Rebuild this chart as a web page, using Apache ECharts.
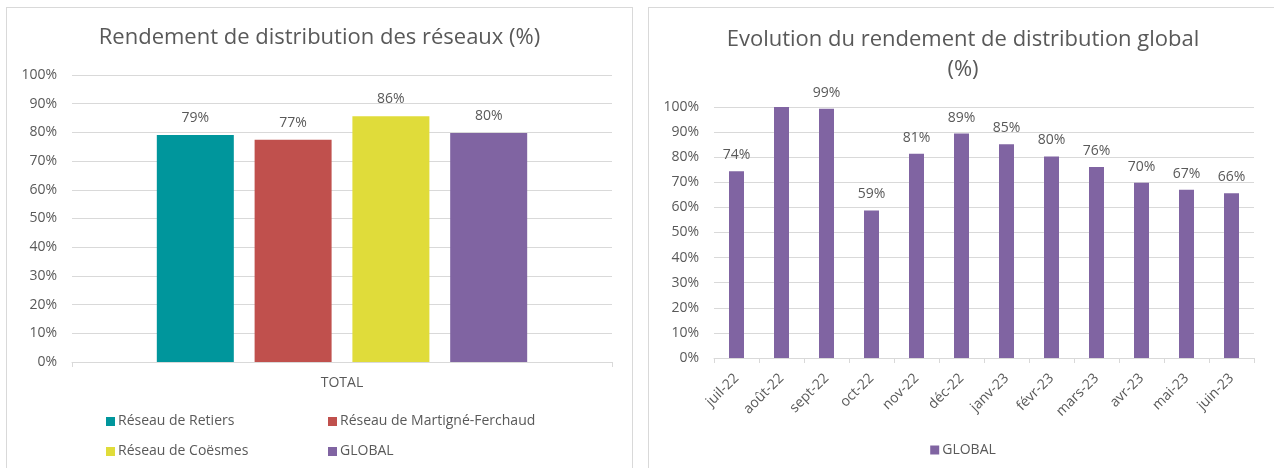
<!DOCTYPE html>
<html>
<head>
<meta charset="utf-8">
<script src="https://cdn.jsdelivr.net/npm/echarts@6/dist/echarts.min.js"></script>
<style>
  html, body { margin: 0; padding: 0; background: #fff; width: 1274px; height: 468px; overflow: hidden; }
  .panel { position: absolute; top: 7px; height: 470px; border: 1px solid #d9d9d9; box-sizing: border-box; background: #fff; }
  .panel > div { width: 100%; height: 100%; }
</style>
</head>
<body>
<div class="panel" style="left:6px;width:627px;"><div id="left-chart"></div></div>
<div class="panel" style="left:648px;width:630px;"><div id="right-chart"></div></div>
<script>
// réseaux (graphique de gauche)
var networkNames = ['Réseau de Retiers', 'Réseau de Martigné-Ferchaud', 'Réseau de Coësmes', 'GLOBAL'];
var networkValues = [79.1, 77.4, 85.6, 79.8];
var networkColors = ['#00969c', '#c0504d', '#e0dc3a', '#8064a2'];
var leftCategory = ['TOTAL'];

// évolution mensuelle (graphique de droite)
var months = ['juil-22', 'août-22', 'sept-22', 'oct-22', 'nov-22', 'déc-22', 'janv-23', 'févr-23', 'mars-23', 'avr-23', 'mai-23', 'juin-23'];
var globalMonthly = [74.4, 100, 99.3, 58.8, 81.4, 89.4, 85.2, 80.3, 76.1, 69.8, 67.0, 65.6];
var noLabelMonths = ['août-22'];
var yTicks = { min: 0, max: 100, interval: 10 };

var font = '"Open Sans", sans-serif';
var textColor = '#595959';
var gridColor = '#d9d9d9';

function legendCol(items, x) {
  return {
    data: items,
    orient: 'vertical',
    left: x, top: 404,
    padding: 0,
    itemWidth: 9, itemHeight: 9, itemGap: 11,
    icon: 'rect',
    textStyle: { color: textColor, fontSize: 14, padding: [0, 0, 0, -2], lineHeight: 19 }
  };
}

var left = echarts.init(document.getElementById('left-chart'));
left.setOption({
  animation: false,
  textStyle: { fontFamily: font },
  title: {
    text: 'Rendement de distribution des réseaux (%)',
    left: 'center',
    top: 14,
    textStyle: { fontSize: 22, fontWeight: 'normal', color: textColor, fontFamily: font }
  },
  legend: [
    legendCol([networkNames[0], networkNames[2]], 99),
    legendCol([networkNames[1], networkNames[3]], 321)
  ],
  grid: { left: 65, right: 20, top: 67, height: 287 },
  xAxis: {
    type: 'category',
    data: leftCategory,
    axisLine: { lineStyle: { color: gridColor } },
    axisTick: { show: true, length: 5, lineStyle: { color: gridColor } },
    axisLabel: { color: textColor, fontSize: 14, margin: 14 }
  },
  yAxis: {
    type: 'value',
    min: yTicks.min, max: yTicks.max, interval: yTicks.interval,
    axisLine: { show: false },
    axisTick: { show: false },
    splitLine: { lineStyle: { color: gridColor } },
    axisLabel: { formatter: '{value}%', color: textColor, fontSize: 14, margin: 15 }
  },
  series: networkNames.map(function (name, i) {
    return {
      name: name,
      type: 'bar',
      data: [networkValues[i]],
      barWidth: 77,
      barGap: '27%',
      itemStyle: { color: networkColors[i] },
      label: {
        show: true, position: 'top', distance: 10,
        color: textColor, fontSize: 14,
        formatter: function (p) { return Math.round(p.value) + '%'; }
      }
    };
  })
});

var right = echarts.init(document.getElementById('right-chart'));
right.setOption({
  animation: false,
  textStyle: { fontFamily: font },
  title: {
    text: 'Evolution du rendement de distribution global\n(%)',
    left: 'center',
    top: 12,
    textStyle: { fontSize: 22, fontWeight: 'normal', color: textColor, lineHeight: 30, fontFamily: font }
  },
  legend: {
    data: ['GLOBAL'],
    left: 'center', top: 435,
    padding: 0,
    itemWidth: 9, itemHeight: 9,
    icon: 'rect',
    textStyle: { color: textColor, fontSize: 14, padding: [0, 0, 0, -2] }
  },
  grid: { left: 65, right: 23, top: 99, height: 251 },
  xAxis: {
    type: 'category',
    data: months,
    axisLine: { lineStyle: { color: gridColor } },
    axisTick: { show: true, length: 5, lineStyle: { color: gridColor } },
    axisLabel: { color: textColor, fontSize: 14, rotate: 45, margin: 18, interval: 0 }
  },
  yAxis: {
    type: 'value',
    min: yTicks.min, max: yTicks.max, interval: yTicks.interval,
    axisLine: { show: false },
    axisTick: { show: false },
    splitLine: { lineStyle: { color: gridColor } },
    axisLabel: { formatter: '{value}%', color: textColor, fontSize: 14, margin: 15 }
  },
  series: [{
    name: 'GLOBAL',
    type: 'bar',
    barWidth: 15,
    itemStyle: { color: networkColors[3] },
    data: globalMonthly.map(function (v, i) {
      return noLabelMonths.indexOf(months[i]) >= 0 ? { value: v, label: { show: false } } : v;
    }),
    label: {
      show: true, position: 'top', distance: 9,
      color: textColor, fontSize: 14,
      formatter: function (p) { return Math.round(p.value) + '%'; }
    }
  }]
});
</script>
</body>
</html>
